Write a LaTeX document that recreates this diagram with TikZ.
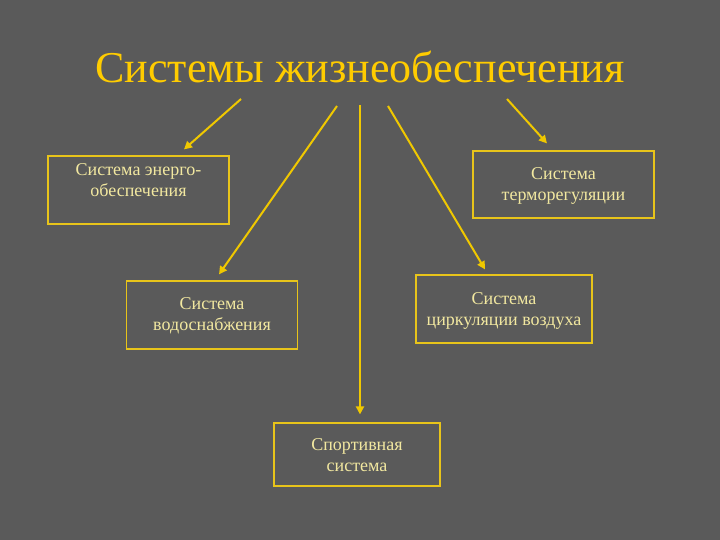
\documentclass[tikz,border=0pt]{standalone}
\usepackage{fontspec}
\setmainfont{Liberation Serif}
\usetikzlibrary{arrows.meta,calc}
\definecolor{bg}{HTML}{5A5A5A}
\definecolor{titlecol}{HTML}{FFCC00}
\definecolor{linecol}{HTML}{F0C800}
\definecolor{boxline}{HTML}{E8C41A}
\definecolor{txtcol}{HTML}{F2E8A0}
\tikzset{
  box/.style={draw=boxline, line width=1.2pt, rectangle, inner sep=0pt},
  boxtext/.style={text=txtcol, font=\fontsize{18}{21}\selectfont, align=center, inner sep=0pt},
  conn/.style={draw=linecol, line width=2pt, -{Triangle[length=8pt,width=8pt]}},
}
\begin{document}
\begin{tikzpicture}[x=1pt,y=-1pt]
\fill[bg] (0,0) rectangle (720,540);
\useasboundingbox (0,0) rectangle (720,540);
\node[text=titlecol, font=\fontsize{44}{48}\selectfont, inner sep=0pt] (title) at (360,67) {Системы жизнеобеспечения};

\node[box, minimum width=181pt, minimum height=68pt] (b1) at (138.5,190) {};
\node[boxtext] (l1) at (138.5,180) {Система энерго-\\обеспечения};

\node[box, minimum width=181pt, minimum height=67pt] (b2) at (563.5,184.5) {};
\node[boxtext] (l2) at (563.5,186) {Система\\терморегуляции};

\node[box, minimum width=171pt, minimum height=68pt] (b3) at (212,315) {};
\node[boxtext] (l3) at (212,316) {Система\\водоснабжения};

\node[box, minimum width=176pt, minimum height=68pt] (b4) at (504,309) {};
\node[boxtext] (l4) at (504,310.5) {Система\\циркуляции воздуха};

\node[box, minimum width=166pt, minimum height=63pt] (b5) at (357,454.5) {};
\node[boxtext] (l5) at (357,455) {Спортивная\\система};

\coordinate (s1) at (241,99);
\coordinate (s2) at (337,106);
\coordinate (s3) at (360,105);
\coordinate (s4) at (388,106);
\coordinate (s5) at (507,99);
\coordinate (t1) at ($(b1.north)+(45.5,-6)$);
\coordinate (t2) at ($(b3.north)+(7,-6)$);
\coordinate (t3) at ($(b5.north)+(3,-8)$);
\coordinate (t4) at ($(b4.north)+(-19,-5)$);
\coordinate (t5) at ($(b2.north)+(-16.5,-7)$);
\draw[conn] (s1) -- (t1);
\draw[conn] (s2) -- (t2);
\draw[conn] (s3) -- (t3);
\draw[conn] (s4) -- (t4);
\draw[conn] (s5) -- (t5);
\end{tikzpicture}
\end{document}
